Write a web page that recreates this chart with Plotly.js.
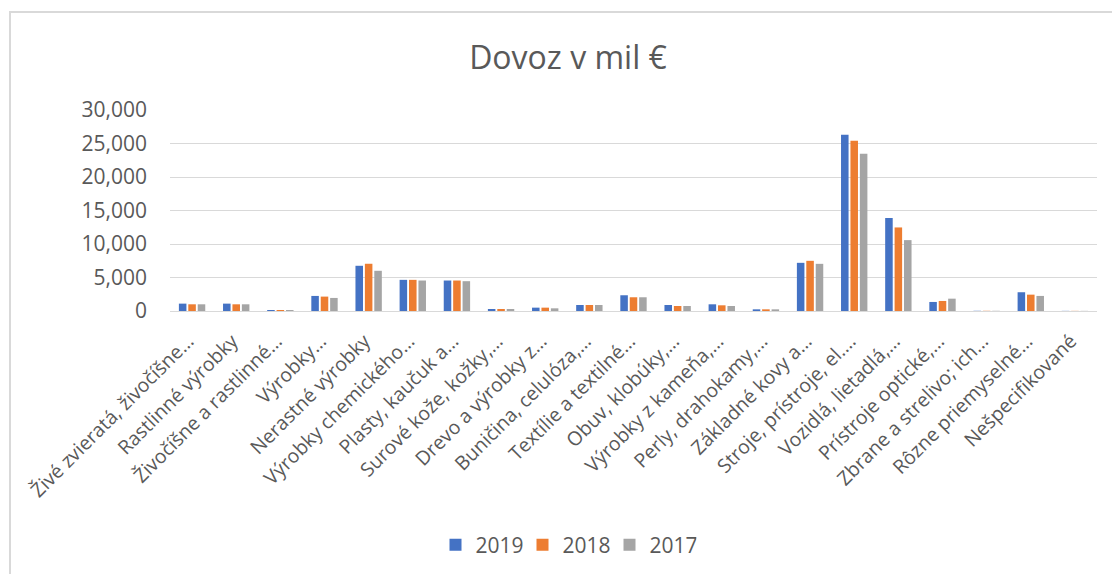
<!DOCTYPE html>
<html>
<head>
<meta charset="utf-8">
<script src="https://cdn.plot.ly/plotly-3.0.1.min.js"></script>
<style>
  html, body { margin: 0; padding: 0; background: #fff; }
  #wrap { position: relative; width: 1112px; height: 574px; overflow: hidden; }
  #chart { position: absolute; left: 0; top: 0; width: 1112px; height: 574px; }
  #frame { position: absolute; left: 9px; top: 11px; width: 1200px; height: 700px;
           border-left: 2px solid #d9d9d9; border-top: 2px solid #d9d9d9; pointer-events: none; }
</style>
</head>
<body>
<div id="wrap">
  <div id="chart"></div>
  <div id="frame"></div>
</div>
<script>
const categories = [
  "Živé zvieratá, živočíšne…",
  "Rastlinné výrobky",
  "Živočíšne a rastlinné…",
  "Výrobky…",
  "Nerastné výrobky",
  "Výrobky chemického…",
  "Plasty, kaučuk a…",
  "Surové kože, kožky,…",
  "Drevo a výrobky z…",
  "Buničina, celulóza,…",
  "Textílie a textilné…",
  "Obuv, klobúky,…",
  "Výrobky z kameňa,…",
  "Perly, drahokamy,…",
  "Základné kovy a…",
  "Stroje, prístroje, el.…",
  "Vozidlá, lietadlá,…",
  "Prístroje optické,…",
  "Zbrane a strelivo; ich…",
  "Rôzne priemyselné…",
  "Nešpecifikované"
];
const values2019 = [1100, 1100, 150, 2250, 6750, 4650, 4550, 300, 500, 900, 2350, 900, 1000, 250, 7190, 26300, 13880, 1350, 30, 2800, 20];
const values2018 = [1000, 1000, 150, 2150, 7050, 4650, 4550, 300, 500, 900, 2050, 750, 850, 250, 7490, 25400, 12470, 1500, 30, 2440, 20];
const values2017 = [1000, 1000, 150, 1950, 6000, 4550, 4450, 300, 400, 900, 2050, 750, 750, 250, 7040, 23460, 10580, 1840, 30, 2250, 20];
const seriesNames = ["2019", "2018", "2017"];
const yTicks = [0, 5000, 10000, 15000, 20000, 25000, 30000];

const colors = ["#4472C4", "#ED7D31", "#A5A5A5"];
const allValues = [values2019, values2018, values2017];
const font = "'Open Sans', 'Noto Sans', sans-serif";
const textColor = "#595959";

const traces = allValues.map((vals, i) => ({
  type: "bar",
  name: seriesNames[i],
  x: categories,
  y: vals,
  marker: { color: colors[i] },
  hoverinfo: "x+y+name"
}));

const layout = {
  width: 1112,
  height: 574,
  margin: { l: 170, r: 15, t: 110, b: 263, autoexpand: false },
  paper_bgcolor: "#fff",
  plot_bgcolor: "#fff",
  font: { family: font, color: textColor },
  title: {
    text: "Dovoz v mil €",
    font: { family: font, size: 32, color: textColor },
    x: 568 / 1112, xanchor: "center", xref: "container",
    y: 1 - 58 / 574, yanchor: "middle", yref: "container"
  },
  barmode: "group",
  bargap: 0.36,
  bargroupgap: 0.2,
  showlegend: true,
  legend: {
    orientation: "h",
    x: 566 / 1112, xref: "container", xanchor: "center",
    y: 1 - 545 / 574, yref: "container", yanchor: "middle",
    font: { family: font, size: 21, color: textColor },
    entrywidth: 42,
    traceorder: "normal"
  },
  xaxis: {
    type: "category",
    tickangle: -45,
    tickfont: { family: font, size: 19.5, color: textColor },
    ticklabelshift: -4,
    ticklabelstandoff: 10,
    showgrid: false,
    showline: true,
    linecolor: "#d9d9d9",
    linewidth: 1,
    ticks: "",
    automargin: false,
    fixedrange: true
  },
  yaxis: {
    range: [0, 30000],
    tickvals: yTicks,
    ticktext: yTicks.map(v => v.toLocaleString("en-US")),
    tickfont: { family: font, size: 21, color: textColor },
    showgrid: true,
    gridcolor: "#d9d9d9",
    gridwidth: 1,
    zeroline: false,
    showline: false,
    ticks: "",
    ticklabelstandoff: 22,
    automargin: false,
    fixedrange: true
  }
};

Plotly.newPlot("chart", traces, layout, { displayModeBar: false, staticPlot: true });
</script>
</body>
</html>
